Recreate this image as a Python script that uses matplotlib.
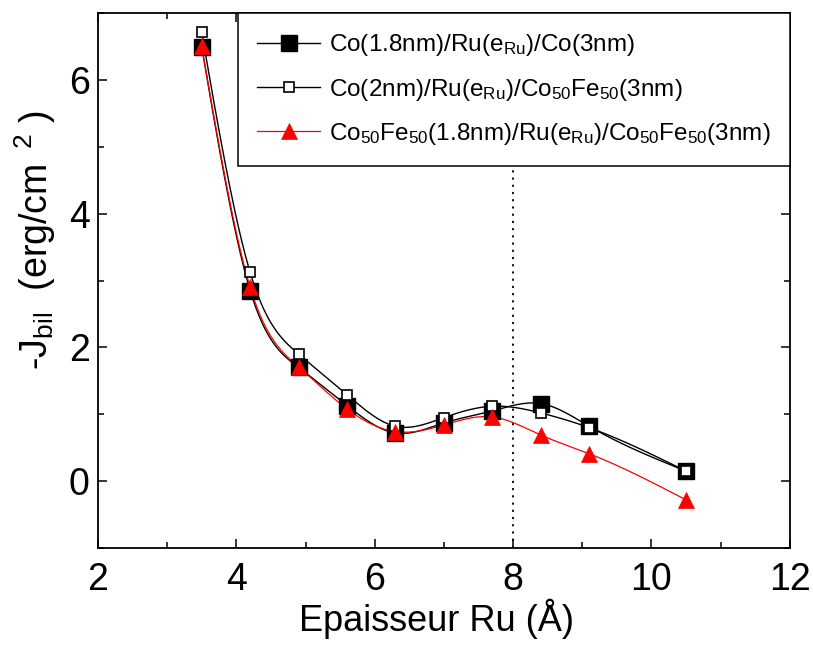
import numpy as np
import matplotlib
matplotlib.use("Agg")
import matplotlib.pyplot as plt
from matplotlib import font_manager
from matplotlib.ticker import MultipleLocator

plt.rcParams['font.family'] = ['Liberation Sans', 'DejaVu Sans']
plt.rcParams['mathtext.fontset'] = 'custom'
plt.rcParams['mathtext.rm'] = 'Liberation Sans'
plt.rcParams['mathtext.it'] = 'Liberation Sans'
plt.rcParams['mathtext.bf'] = 'Liberation Sans'

# Ru spacer thickness (Angstrom)
e_ru = [3.5, 4.2, 4.9, 5.6, 6.3, 7.0, 7.7, 8.4, 9.1, 10.5]

# -J_bil (erg/cm^2) for the three stacks
j_co_co = [6.49, 2.85, 1.70, 1.13, 0.72, 0.87, 1.05, 1.16, 0.82, 0.15]
j_co_cofe = [6.71, 3.12, 1.90, 1.29, 0.82, 0.95, 1.12, 1.02, 0.80, 0.15]
j_cofe_cofe = [6.50, 2.90, 1.71, 1.08, 0.74, 0.84, 0.96, 0.69, 0.41, -0.28]

labels = [
    r"Co(1.8nm)/Ru(e$_{\mathrm{Ru}}$)/Co(3nm)",
    r"Co(2nm)/Ru(e$_{\mathrm{Ru}}$)/Co$_{\mathrm{50}}$Fe$_{\mathrm{50}}$(3nm)",
    r"Co$_{\mathrm{50}}$Fe$_{\mathrm{50}}$(1.8nm)/Ru(e$_{\mathrm{Ru}}$)/Co$_{\mathrm{50}}$Fe$_{\mathrm{50}}$(3nm)",
]


def natural_spline(x, y, n=400):
    """Natural cubic spline through (x, y), sampled on n points."""
    x = np.asarray(x, float)
    y = np.asarray(y, float)
    m = len(x)
    h = np.diff(x)
    A = np.zeros((m, m))
    b = np.zeros(m)
    A[0, 0] = A[-1, -1] = 1.0
    for i in range(1, m - 1):
        A[i, i - 1] = h[i - 1]
        A[i, i] = 2 * (h[i - 1] + h[i])
        A[i, i + 1] = h[i]
        b[i] = 3 * ((y[i + 1] - y[i]) / h[i] - (y[i] - y[i - 1]) / h[i - 1])
    c = np.linalg.solve(A, b)
    xs = np.linspace(x[0], x[-1], n)
    idx = np.clip(np.searchsorted(x, xs) - 1, 0, m - 2)
    bcoef = (y[1:] - y[:-1]) / h - h * (2 * c[:-1] + c[1:]) / 3
    dcoef = (c[1:] - c[:-1]) / (3 * h)
    dx = xs - x[idx]
    ys = y[idx] + bcoef[idx] * dx + c[idx] * dx ** 2 + dcoef[idx] * dx ** 3
    return xs, ys


# condensed face for the x label when available
try:
    font_manager.findfont(font_manager.FontProperties(family='Liberation Sans Narrow'),
                          fallback_to_default=False)
    xlabel_font = dict(family='Liberation Sans Narrow', size=31)
except ValueError:
    xlabel_font = dict(family='Liberation Sans', size=26)

fig = plt.figure(figsize=(8.13, 6.52), dpi=100)
ax = fig.add_axes([0.1205, 0.1595, 0.851, 0.8205])

ax.axvline(8, color='black', linestyle=(0, (1.2, 2.8)), linewidth=1.3, zorder=1)

series = [
    (j_co_co, dict(color='black', lw=1.0), dict(marker='s', ms=11, mfc='black', mec='black', mew=1)),
    (j_co_cofe, dict(color='black', lw=1.0), dict(marker='s', ms=6.8, mfc='white', mec='black', mew=1.2)),
    (j_cofe_cofe, dict(color='red', lw=0.9), dict(marker='^', ms=11, mfc='red', mec='red', mew=0.5)),
]

handles = []
for k, (vals, lstyle, mstyle) in enumerate(series):
    xs, ys = natural_spline(e_ru, vals)
    ax.plot(xs, ys, zorder=2 + k, **lstyle)
    ax.plot(e_ru, vals, linestyle='none', zorder=5 + k, **mstyle)
    h, = ax.plot([], [], color=lstyle['color'], lw=lstyle['lw'], **mstyle)
    handles.append(h)

ax.set_xlim(2, 12)
ax.set_ylim(-1, 7)
ax.xaxis.set_major_locator(MultipleLocator(2))
ax.xaxis.set_minor_locator(MultipleLocator(1))
ax.yaxis.set_major_locator(MultipleLocator(2))
ax.yaxis.set_minor_locator(MultipleLocator(1))
ax.tick_params(which='both', direction='in', top=True, right=True, width=1.1,
               labelsize=27, colors='black')
ax.tick_params(which='major', length=6.5)
ax.tick_params(which='minor', length=4)
ax.tick_params(axis='x', which='major', pad=10)
ax.tick_params(axis='y', which='major', pad=6)
for s in ax.spines.values():
    s.set_linewidth(1.3)

ax.set_xlabel("Epaisseur Ru (Å)", fontdict=xlabel_font)
ax.xaxis.set_label_coords(0.49, -0.095)
ax.set_ylabel(r"-J$_{\mathrm{bil}}$  (erg/cm$^{\ \ 2}$ )", fontsize=27)
ax.yaxis.set_label_coords(-0.058, 0.575)

leg = ax.legend(handles, labels, loc='upper right', fontsize=17.5, frameon=True,
                fancybox=False, edgecolor='black', framealpha=1, borderaxespad=0,
                handlelength=2.6, handletextpad=0.35, labelspacing=0.75,
                borderpad=0.8)
leg.get_frame().set_linewidth(1.1)
leg.set_zorder(20)

fig.savefig("out.png", dpi=100)
